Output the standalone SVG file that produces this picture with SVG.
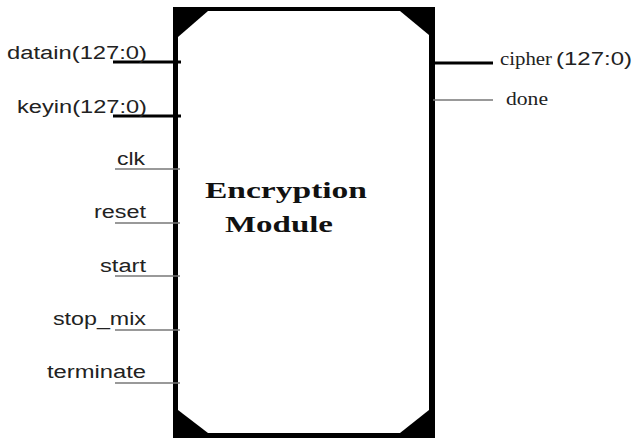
<svg xmlns="http://www.w3.org/2000/svg" width="634" height="439" viewBox="0 0 634 439">
<style>
.lbl{font-family:"Liberation Sans",Arial,sans-serif;font-size:18px;fill:#222}
.ser{font-family:"Liberation Serif","Times New Roman",serif;font-size:19px;fill:#222}
.title{font-family:"Liberation Serif","Times New Roman",serif;font-size:24px;font-weight:bold;fill:#111}
.bus{stroke:#000;stroke-width:3;fill:none}
.sig{stroke:#777;stroke-width:1.5;fill:none}
</style>
<rect width="634" height="439" fill="#fff"/>
<g id="module">
<rect x="173" y="7" width="262" height="431" fill="#000"/>
<polygon points="208,11 400,11 429,35 429,410 400,433 208,433 178,410 178,37" fill="#fff"/>
<text class="title" x="205" y="198" textLength="162" lengthAdjust="spacingAndGlyphs">Encryption</text>
<text class="title" x="225" y="232" textLength="108" lengthAdjust="spacingAndGlyphs">Module</text>
</g>
<g id="connectors">
<line class="bus" x1="113" y1="62" x2="181" y2="62"/>
<line class="bus" x1="113" y1="116" x2="181" y2="116"/>
<line class="sig" x1="115" y1="169" x2="180" y2="169"/>
<line class="sig" x1="115" y1="223" x2="180" y2="223"/>
<line class="sig" x1="115" y1="276" x2="180" y2="276"/>
<line class="sig" x1="115" y1="330" x2="180" y2="330"/>
<line class="sig" x1="115" y1="383" x2="180" y2="383"/>
<line class="bus" x1="433" y1="63" x2="493" y2="63"/>
<line class="sig" x1="433" y1="100" x2="493" y2="100"/>
</g>
<g id="pin-datain"><text class="lbl" x="7" y="59" textLength="140" lengthAdjust="spacingAndGlyphs">datain(127:0)</text></g>
<g id="pin-keyin"><text class="lbl" x="17" y="113" textLength="130" lengthAdjust="spacingAndGlyphs">keyin(127:0)</text></g>
<g id="pin-clk"><text class="lbl" x="117" y="165" textLength="28" lengthAdjust="spacingAndGlyphs">clk</text></g>
<g id="pin-reset"><text class="lbl" x="94" y="218" textLength="52" lengthAdjust="spacingAndGlyphs">reset</text></g>
<g id="pin-start"><text class="lbl" x="100" y="272" textLength="46" lengthAdjust="spacingAndGlyphs">start</text></g>
<g id="pin-stop_mix"><text class="lbl" x="53" y="325" textLength="93" lengthAdjust="spacingAndGlyphs">stop_mix</text></g>
<g id="pin-terminate"><text class="lbl" x="47" y="378" textLength="99" lengthAdjust="spacingAndGlyphs">terminate</text></g>
<g id="pin-cipher"><text class="ser" x="500" y="65" textLength="52" lengthAdjust="spacingAndGlyphs">cipher</text><text class="lbl" x="556" y="65" textLength="76" lengthAdjust="spacingAndGlyphs">(127:0)</text></g>
<g id="pin-done"><text class="ser" x="506" y="105" textLength="42" lengthAdjust="spacingAndGlyphs">done</text></g>
</svg>
